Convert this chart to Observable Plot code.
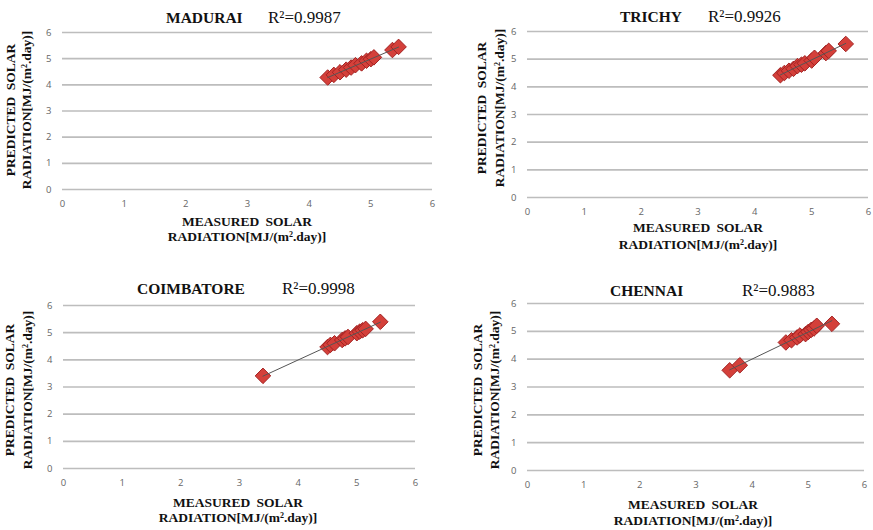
<!DOCTYPE html>
<html>
<head>
<meta charset="utf-8">
<script src="https://cdn.jsdelivr.net/npm/d3@7"></script>
<script src="https://cdn.jsdelivr.net/npm/@observablehq/plot@0.6"></script>
<style>
  html, body { margin: 0; padding: 0; background: #fff; }
  #root { position: relative; width: 873px; height: 530px; overflow: hidden; background: #fff; }
  .panel-svg { position: absolute; }
  .ttl { position: absolute; font-family: "Liberation Serif", "DejaVu Serif", serif; color: #111; white-space: nowrap; line-height: 1; }
  .city { font-weight: bold; font-size: 15.5px; }
  .r2 { font-size: 17px; }
  .axt { position: absolute; font-family: "Liberation Serif", "DejaVu Serif", serif; font-weight: bold; font-size: 13.5px; word-spacing: 3px; color: #111; white-space: nowrap; line-height: 1; transform: translate(-50%, -50%); }
  .axt.rot { transform: translate(-50%, -50%) rotate(-90deg); }
</style>
</head>
<body>
<div id="root"></div>
<script>
// ---------- data ----------
const cities = ["MADURAI", "TRICHY", "COIMBATORE", "CHENNAI"];
const r2Labels = ["R²=0.9987", "R²=0.9926", "R²=0.9998", "R²=0.9883"];
const xTitleLines = ["MEASURED SOLAR", "RADIATION[MJ/(m².day)]"];
const yTitleLines = ["PREDICTED SOLAR", "RADIATION[MJ/(m².day)]"];
const xTicks = [0, 1, 2, 3, 4, 5, 6];
const yTicks = [0, 1, 2, 3, 4, 5, 6];

const maduraiMeasured  = [4.30, 4.40, 4.50, 4.60, 4.68, 4.75, 4.85, 4.93, 5.00, 5.05, 5.35, 5.45];
const maduraiPredicted = [4.28, 4.38, 4.48, 4.58, 4.66, 4.75, 4.82, 4.92, 4.98, 5.05, 5.33, 5.45];

const trichyMeasured   = [4.45, 4.52, 4.60, 4.68, 4.75, 4.82, 4.88, 5.00, 5.05, 5.25, 5.30, 5.60];
const trichyPredicted  = [4.42, 4.50, 4.58, 4.65, 4.75, 4.80, 4.85, 4.95, 5.05, 5.22, 5.30, 5.55];

const coimbatoreMeasured  = [3.40, 4.50, 4.55, 4.62, 4.75, 4.80, 4.85, 5.00, 5.05, 5.10, 5.15, 5.40];
const coimbatorePredicted = [3.41, 4.47, 4.55, 4.61, 4.73, 4.79, 4.84, 4.98, 5.04, 5.09, 5.14, 5.40];

const chennaiMeasured  = [3.60, 3.78, 4.60, 4.70, 4.80, 4.85, 4.95, 5.00, 5.05, 5.10, 5.15, 5.42];
const chennaiPredicted = [3.60, 3.78, 4.60, 4.68, 4.78, 4.85, 4.90, 4.98, 5.05, 5.10, 5.20, 5.27];

const seriesMeasured  = [maduraiMeasured, trichyMeasured, coimbatoreMeasured, chennaiMeasured];
const seriesPredicted = [maduraiPredicted, trichyPredicted, coimbatorePredicted, chennaiPredicted];

// ---------- layout (pixel positions of each plot frame and its texts) ----------
const layout = [
  { left: 62,  right: 432, top: 32,  bottom: 189, cityX: 166, r2X: 268, titleY: 9,   yt: [11, 27, 110],  xt: [247, 222, 237] },
  { left: 527, right: 868, top: 31,  bottom: 197, cityX: 620, r2X: 708, titleY: 8,   yt: [482, 500, 108], xt: [698, 228, 245] },
  { left: 63,  right: 415, top: 305, bottom: 468, cityX: 137, r2X: 282, titleY: 280, yt: [10, 28, 390],  xt: [238, 503, 518] },
  { left: 527, right: 864, top: 303, bottom: 470, cityX: 610, r2X: 742, titleY: 282, yt: [478, 495, 390], xt: [693, 505, 521] }
];

const root = document.getElementById("root");
const mL = 24, mR = 8, mT = 8, mB = 24;

cities.forEach((city, i) => {
  const L = layout[i];
  const data = seriesMeasured[i].map((m, k) => ({ measured: m, predicted: seriesPredicted[i][k] }));
  const w = L.right - L.left + mL + mR;
  const h = L.bottom - L.top + mT + mB;
  const chart = Plot.plot({
    width: w,
    height: h,
    marginLeft: mL, marginRight: mR, marginTop: mT, marginBottom: mB,
    style: { background: "transparent", fontFamily: "'Open Sans', 'DejaVu Sans', sans-serif", fontSize: "9.5px", color: "#666", overflow: "visible" },
    x: { domain: [0, 6] },
    y: { domain: [0, 6] },
    marks: [
      Plot.gridY(yTicks, { stroke: "#bdbdbd", strokeOpacity: 1, strokeWidth: 1.6 }),
      Plot.axisY({ ticks: yTicks, tickFormat: "d", tickSize: 0, tickPadding: 11, label: null, fill: "#666" }),
      Plot.axisX({ ticks: xTicks, tickFormat: "d", tickSize: 0, tickPadding: 11, label: null, fill: "#666" }),
      Plot.dot(data, { x: "measured", y: "predicted", symbol: "diamond2", r: 7, fill: "#d4403a", stroke: "#a32222", strokeWidth: 1 }),
      Plot.linearRegressionY(data, { x: "measured", y: "predicted", stroke: "#555", strokeWidth: 1, ci: 0 })
    ]
  });
  chart.classList.add("panel-svg");
  chart.style.left = (L.left - mL) + "px";
  chart.style.top = (L.top - mT) + "px";
  root.appendChild(chart);

  const c = document.createElement("div");
  c.className = "ttl city";
  c.textContent = city;
  c.style.left = L.cityX + "px";
  c.style.top = (L.titleY + 1) + "px";
  root.appendChild(c);

  const r = document.createElement("div");
  r.className = "ttl r2";
  r.textContent = r2Labels[i];
  r.style.left = L.r2X + "px";
  r.style.top = L.titleY + "px";
  root.appendChild(r);

  yTitleLines.forEach((t, k) => {
    const d = document.createElement("div");
    d.className = "axt rot";
    d.innerHTML = t.replace("²", "<sup style='font-size:8px;vertical-align:4px'>2</sup>");
    d.style.left = L.yt[k] + "px";
    d.style.top = L.yt[2] + "px";
    root.appendChild(d);
  });
  xTitleLines.forEach((t, k) => {
    const d = document.createElement("div");
    d.className = "axt";
    d.innerHTML = t.replace("²", "<sup style='font-size:8px;vertical-align:4px'>2</sup>");
    d.style.left = L.xt[0] + "px";
    d.style.top = L.xt[1 + k] + "px";
    root.appendChild(d);
  });
});
</script>
</body>
</html>
